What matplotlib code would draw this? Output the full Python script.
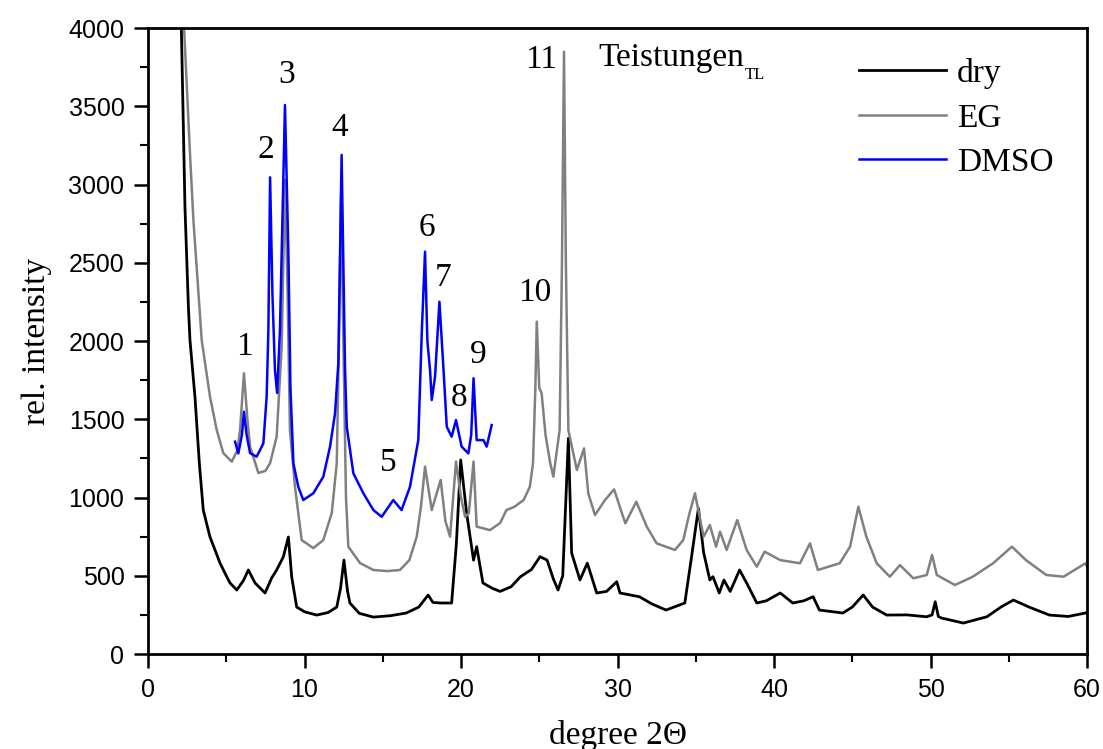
import matplotlib
matplotlib.use('Agg')
import matplotlib.pyplot as plt
import numpy as np
from matplotlib.ticker import MultipleLocator

# Data (degree 2Theta, rel. intensity)
dry_x = [2.12, 2.36, 2.58, 2.68, 3.0, 3.28, 3.53, 3.96, 4.28, 4.6, 5.03, 5.24, 5.67, 6.1, 6.41, 6.84, 7.48, 7.9,
         8.22, 8.65, 8.97, 9.18, 9.5, 10.0, 10.78, 11.5, 12.06, 12.3, 12.52, 12.75, 12.9, 13.5, 14.4, 15.5, 16.5,
         17.3, 17.9, 18.2, 18.66, 19.4, 19.7, 19.98, 20.36, 20.8, 21.0, 21.4, 22.0, 22.5, 23.2, 23.8, 24.5, 25.05,
         25.5, 25.9, 26.2, 26.5, 26.86, 27.07, 27.6, 28.07, 28.67, 29.3, 29.95, 30.16, 31.4, 32.2, 33.1, 34.3, 34.7,
         35.17, 35.5, 35.9, 36.1, 36.5, 36.8, 37.2, 37.8, 38.25, 38.9, 39.5, 40.4, 41.2, 41.9, 42.5, 42.9, 44.4,
         45.0, 45.7, 46.3, 47.2, 48.5, 49.75, 50.1, 50.3, 50.5, 50.7, 52.1, 53.6, 54.5, 55.3, 56.3, 57.6, 58.8,
         59.9, 60.0]
dry_y = [4050, 2858, 2219, 2006, 1642, 1218, 920, 748, 665, 581, 494, 454, 409, 470, 537, 454, 390, 486,
         537, 622, 748, 494, 300, 270, 249, 265, 300, 420, 600, 400, 326, 260, 236, 245, 262,
         300, 377, 330, 326, 326, 700, 1240, 899, 600, 686, 454, 420, 400, 430, 494, 540, 622,
         600, 480, 409, 500, 1378, 645, 473, 581, 390, 400, 462, 390, 366, 320, 281, 326, 600,
         931, 650, 473, 494, 390, 473, 400, 537, 454, 326, 340, 390, 326, 340, 366, 281, 262,
         300, 377, 300, 249, 250, 238, 250, 334, 240, 230, 198, 238, 300, 345, 300, 249, 240,
         262, 265]

eg_x = [2.28, 2.68, 2.9, 3.43, 3.96, 4.39, 4.81, 5.35, 5.7, 5.88, 6.13, 6.35, 6.52, 7.05, 7.5, 7.8, 8.22, 8.54,
        8.75, 8.9, 9.07, 9.39, 9.82, 10.56, 11.2, 11.74, 12.06, 12.2, 12.33, 12.5, 12.65, 12.8, 13.55, 14.4, 15.3,
        16.1, 16.7, 17.17, 17.45, 17.7, 18.13, 18.7, 19.0, 19.3, 19.68, 20.0, 20.26, 20.5, 20.8, 21.0, 21.85, 22.5,
        22.9, 23.4, 24.0, 24.4, 24.6, 24.75, 24.84, 25.0, 25.15, 25.4, 25.7, 25.9, 26.3, 26.45, 26.58, 26.7, 26.86,
        27.4, 27.86, 28.13, 28.56, 29.2, 29.78, 30.5, 31.2, 31.87, 32.5, 33.67, 34.2, 34.6, 34.95, 35.5, 35.9,
        36.3, 36.55, 36.97, 37.65, 38.25, 38.9, 39.4, 40.4, 41.66, 42.3, 42.8, 44.2, 44.86, 45.39, 45.9, 46.56,
        47.4, 48.05, 48.9, 49.76, 50.1, 50.4, 51.56, 52.7, 54.0, 55.2, 56.1, 57.4, 58.5, 59.9, 60.0]
eg_y = [4050, 3200, 2773, 2006, 1644, 1431, 1284, 1229, 1300, 1431, 1794, 1500, 1325, 1157, 1170, 1220, 1389, 1964,
        3029, 2400, 1431, 1069, 728, 677, 728, 900, 1220, 2000, 2933, 1900, 1000, 686, 581, 537, 530,
        537, 600, 750, 950, 1197, 920, 1112, 850, 750, 1230, 1000, 877, 900, 1230, 814, 792, 837,
        920, 940, 984, 1069, 1220, 1700, 2124, 1700, 1666, 1400, 1220, 1133, 1431, 2500, 3849, 2500, 1431,
        1176, 1314, 1027, 888, 984, 1052, 835, 973, 814, 707, 665, 728, 900, 1027, 750, 824,
        686, 782, 665, 856, 665, 558, 654, 600, 580, 707, 537, 580, 686, 941, 750, 580,
        494, 568, 484, 505, 633, 505, 441, 494, 580, 686, 600, 505, 494, 580, 560]

dmso_x = [5.56, 5.77, 6.0, 6.13, 6.3, 6.52, 6.94, 7.37, 7.58, 7.69, 7.8, 7.95, 8.11, 8.25, 8.43, 8.54, 8.75, 8.97,
          9.1, 9.29, 9.6, 9.92, 10.56, 11.2, 11.63, 11.95, 12.16, 12.37, 12.59, 12.7, 13.12, 13.76, 14.4, 14.93,
          15.67, 16.2, 16.74, 17.27, 17.49, 17.7, 17.85, 18.02, 18.13, 18.34, 18.62, 18.87, 19.09, 19.4, 19.68,
          20.04, 20.47, 20.65, 20.8, 21.0, 21.43, 21.64, 21.96]
dmso_y = [1357, 1282, 1400, 1548, 1400, 1284, 1261, 1346, 1644, 2070, 3046, 2300, 1815, 1668, 2070, 2560, 3508, 2560,
          1700, 1218, 1069, 984, 1027, 1133, 1325, 1538, 1857, 3189, 1815, 1452, 1155, 1027, 920, 877,
          984, 920, 1069, 1367, 2049, 2571, 2000, 1815, 1623, 1772, 2251, 1836, 1452, 1389, 1495,
          1325, 1282, 1400, 1762, 1367, 1367, 1325, 1463]

# Peak numbers and where they sit
peak_labels = ['1', '2', '3', '4', '5', '6', '7', '8', '9', '10', '11']
peak_x = [6.13, 7.54, 8.88, 12.27, 15.34, 17.83, 18.85, 19.87, 21.09, 24.73, 25.1]
peak_y = [1962, 3220, 3700, 3361, 1220, 2722, 2403, 1636, 1911, 2307, 3796]

serif = ['Liberation Serif', 'DejaVu Serif']
sans = ['Liberation Sans', 'DejaVu Sans']

fig = plt.figure(figsize=(11.03, 7.49), dpi=100)
ax = fig.add_axes([0.1342, 0.1268, 0.8513, 0.8358])

ax.plot(dry_x, dry_y, color='black', lw=2.0, label='dry')
ax.plot(eg_x, eg_y, color='#808080', lw=1.8, label='EG')
ax.plot(dmso_x, dmso_y, color='#0000ff', lw=1.8, label='DMSO')

ax.set_xlim(0, 60)
ax.set_ylim(0, 4000)
ax.xaxis.set_major_locator(MultipleLocator(10))
ax.xaxis.set_minor_locator(MultipleLocator(5))
ax.yaxis.set_major_locator(MultipleLocator(500))
ax.yaxis.set_minor_locator(MultipleLocator(250))
ax.tick_params(which='major', direction='out', length=10, width=1.8, labelsize=18, pad=7)
ax.tick_params(which='minor', direction='out', length=6, width=1.5)
for lab in ax.get_xticklabels() + ax.get_yticklabels():
    lab.set_family(sans)
for sp in ax.spines.values():
    sp.set_linewidth(2)

ax.set_xlabel('degree 2\u0398', fontsize=24, family=serif, labelpad=13)
ax.set_ylabel('rel. intensity', fontsize=24, family=serif, labelpad=12)

for t, px, py in zip(peak_labels, peak_x, peak_y):
    ax.text(px, py, t, fontsize=24, family=serif, ha='center', va='center')

# sample name with a small subscript
ax.text(28.75, 3808, 'Teistungen', fontsize=24, family=serif, ha='left', va='center')
ax.text(38.1, 3700, 'TL', fontsize=12, family=serif, ha='left', va='center')

leg = ax.legend(loc='upper left', bbox_to_anchor=(0.757, 0.952), frameon=False,
                prop={'family': serif, 'size': 24}, handlelength=2.6, handletextpad=0.35,
                labelspacing=0.42, borderpad=0, borderaxespad=0)

fig.savefig('out.png', dpi=100)
